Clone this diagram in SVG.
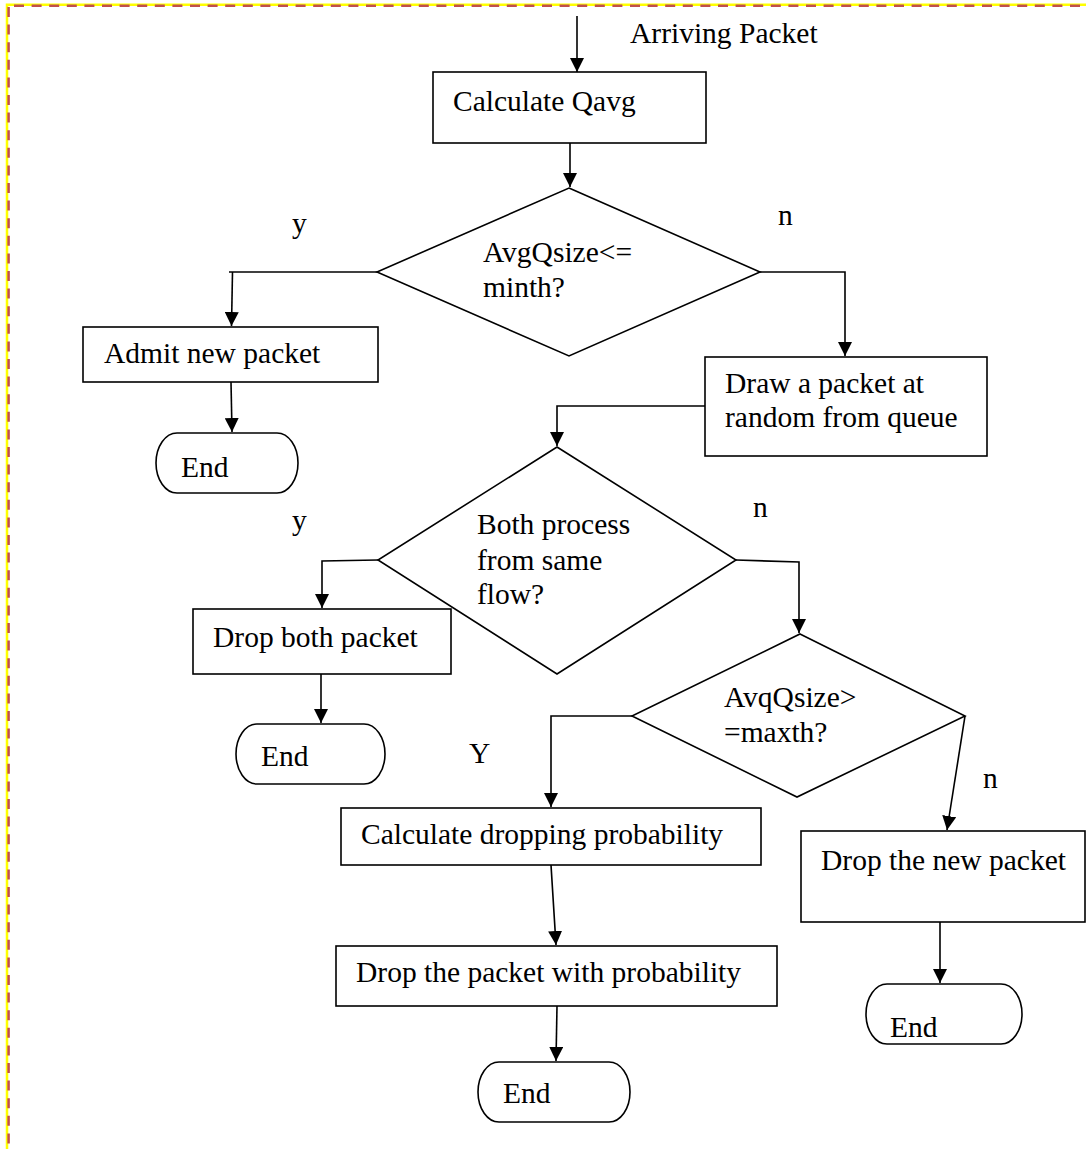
<svg xmlns="http://www.w3.org/2000/svg" width="1086" height="1149" viewBox="0 0 1086 1149">
<style>
  .shape { fill: #ffffff; stroke: #000000; stroke-width: 1.6; }
  .conn { fill: none; stroke: #000000; stroke-width: 1.6; }
  text { font-family: "Liberation Serif", "Times New Roman", serif; font-size: 29.5px; fill: #000000; }
  .yb { fill: none; stroke: #FFFF00; stroke-width: 2.5; }
  .rb { fill: none; stroke: #C0504D; stroke-width: 2.5; stroke-dasharray: 10 7.6; }
</style>
<defs>
  <marker id="arrow" markerUnits="userSpaceOnUse" markerWidth="14" markerHeight="14" refX="14" refY="7" orient="auto">
    <path d="M0,0 L14,7 L0,14 z" fill="#000000"/>
  </marker>
</defs>
<rect width="1086" height="1149" fill="#ffffff"/>
<g id="border">
  <path class="yb" d="M7,1149 L7,4.7 L1086,4.7"/>
  <path class="rb" d="M14,5.8 L1086,5.8"/>
  <path class="rb" d="M8.6,7 L8.6,1149"/>
</g>
<g id="connectors">
  <path class="conn" d="M577,16 L577,72" marker-end="url(#arrow)"/>
  <path class="conn" d="M570,143 L570,187" marker-end="url(#arrow)"/>
  <path class="conn" d="M377,272 L229,272"/>
  <path class="conn" d="M232.5,272 L231.5,326" marker-end="url(#arrow)"/>
  <path class="conn" d="M760,272 L845,272 L845,356" marker-end="url(#arrow)"/>
  <path class="conn" d="M231,382 L232,432" marker-end="url(#arrow)"/>
  <path class="conn" d="M705,406 L557,406 L557,446" marker-end="url(#arrow)"/>
  <path class="conn" d="M378,560 L322,561 L322,608" marker-end="url(#arrow)"/>
  <path class="conn" d="M736,560 L799,562 L799,633" marker-end="url(#arrow)"/>
  <path class="conn" d="M321,674 L321,723" marker-end="url(#arrow)"/>
  <path class="conn" d="M632,716 L551,716 L551,807" marker-end="url(#arrow)"/>
  <path class="conn" d="M965,716 L947,830" marker-end="url(#arrow)"/>
  <path class="conn" d="M551,865 L556,945" marker-end="url(#arrow)"/>
  <path class="conn" d="M940,922 L940,983" marker-end="url(#arrow)"/>
  <path class="conn" d="M557,1006 L556,1061" marker-end="url(#arrow)"/>
</g>
<g id="labels">
  <text x="630" y="43">Arriving Packet</text>
  <text x="292" y="233">y</text>
  <text x="778" y="225">n</text>
  <text x="292" y="530">y</text>
  <text x="753" y="517">n</text>
  <text x="469" y="763">Y</text>
  <text x="983" y="788">n</text>
</g>
<g id="calc-qavg">
  <rect class="shape" x="433" y="72" width="273" height="71"/>
  <text x="453" y="111">Calculate Qavg</text>
</g>
<g id="decision-min">
  <polygon class="shape" points="569,188 760,272 569,356 377,272"/>
  <text x="483" y="262">AvgQsize&lt;=</text>
  <text x="483" y="297">minth?</text>
</g>
<g id="admit">
  <rect class="shape" x="83" y="327" width="295" height="55"/>
  <text x="104" y="363">Admit new packet</text>
</g>
<g id="end1">
  <rect class="shape" x="156" y="433" width="142" height="60" rx="21" ry="30"/>
  <text x="181" y="477">End</text>
</g>
<g id="draw-random">
  <rect class="shape" x="705" y="357" width="282" height="99"/>
  <text x="725" y="393">Draw a packet at</text>
  <text x="725" y="427">random from queue</text>
</g>
<g id="decision-flow">
  <polygon class="shape" points="557,447 736,560 557,674 378,560"/>
  <text x="477" y="534">Both process</text>
  <text x="477" y="570">from same</text>
  <text x="477" y="604">flow?</text>
</g>
<g id="drop-both">
  <rect class="shape" x="193" y="609" width="258" height="65"/>
  <text x="213" y="647">Drop both packet</text>
</g>
<g id="end2">
  <rect class="shape" x="236" y="724" width="149" height="60" rx="21" ry="30"/>
  <text x="261" y="766">End</text>
</g>
<g id="decision-max">
  <polygon class="shape" points="800,634 965,716 797,797 632,716"/>
  <text x="724" y="707">AvqQsize&gt;</text>
  <text x="724" y="742">=maxth?</text>
</g>
<g id="calc-drop-prob">
  <rect class="shape" x="341" y="808" width="420" height="57"/>
  <text x="361" y="844">Calculate dropping probability</text>
</g>
<g id="drop-new">
  <rect class="shape" x="801" y="831" width="284" height="91"/>
  <text x="821" y="870">Drop the new packet</text>
</g>
<g id="drop-prob">
  <rect class="shape" x="336" y="946" width="441" height="60"/>
  <text x="356" y="982">Drop the packet with probability</text>
</g>
<g id="end3">
  <rect class="shape" x="866" y="984" width="156" height="60" rx="21" ry="30"/>
  <text x="890" y="1037">End</text>
</g>
<g id="end4">
  <rect class="shape" x="478" y="1062" width="152" height="60" rx="21" ry="30"/>
  <text x="503" y="1103">End</text>
</g>
</svg>
